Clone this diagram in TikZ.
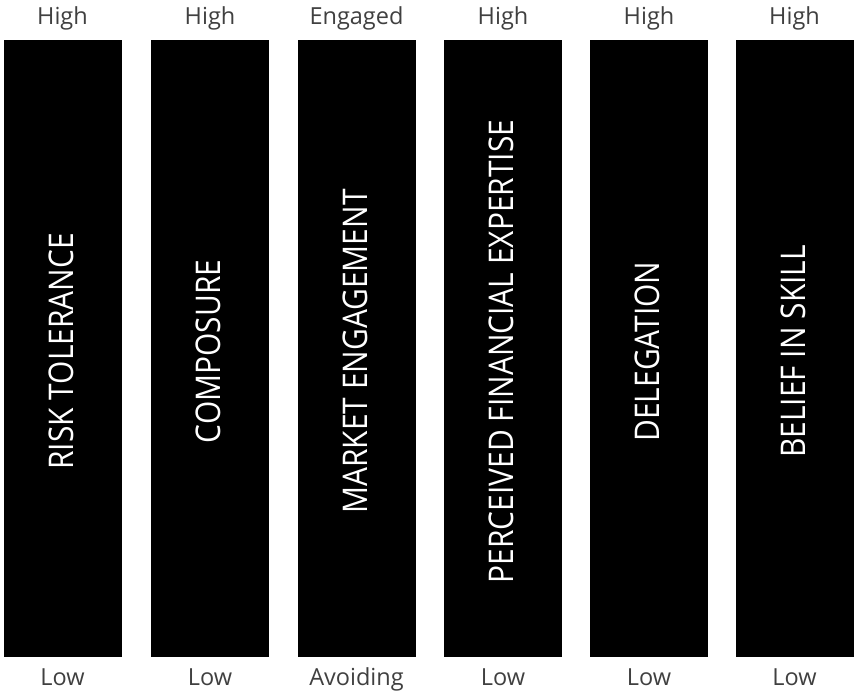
\documentclass[tikz,border=0pt]{standalone}
\usepackage{fontspec}
\setmainfont{Open Sans}
\newfontfamily\barfont[FakeStretch=0.88]{Open Sans}
\definecolor{labgray}{HTML}{404040}
\begin{document}
\begin{tikzpicture}[x=1pt,y=-1pt,
  bar/.style={rectangle,fill=black,draw=none,inner sep=0pt,minimum width=118pt,minimum height=617pt},
  bartext/.style={rotate=90,text=white,inner sep=0pt,font=\barfont\fontsize{34}{40}\selectfont},
  toplab/.style={text=labgray,inner sep=0pt,font=\fontsize{23.5}{28}\selectfont},
  botlab/.style={text=labgray,inner sep=0pt,font=\fontsize{23.5}{28}\selectfont}]
\useasboundingbox (0,0) rectangle (854,694);
\fill[white] (0,0) rectangle (854,694);
\foreach \i/\cx/\top/\bot/\lab in {
  1/62.5/High/Low/RISK TOLERANCE,
  2/210/High/Low/COMPOSURE,
  3/356.5/Engaged/Avoiding/MARKET ENGAGEMENT,
  4/503/High/Low/PERCEIVED FINANCIAL EXPERTISE,
  5/649/High/Low/DELEGATION,
  6/794.5/High/Low/BELIEF IN SKILL}{
  \node[bar] (b\i) at (\cx,348.5) {};
  \node[bartext] (v\i) at ([xshift=-1.5pt,yshift=-3pt]b\i.center) {\lab};
  \node[toplab,anchor=base] (t\i) at ([yshift=15.5pt]b\i.north) {\top};
  \node[botlab,anchor=base] (l\i) at ([yshift=-28pt]b\i.south) {\bot};
}
\end{tikzpicture}
\end{document}
